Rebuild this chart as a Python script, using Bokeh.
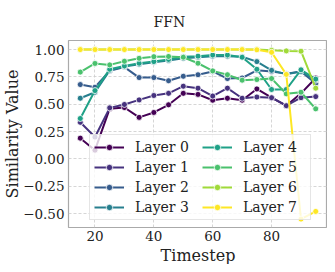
from bokeh.plotting import figure
from bokeh.models import Legend, LegendItem, FixedTicker, Title
from bokeh.embed import file_html
from bokeh.resources import INLINE

timesteps = [15, 20, 25, 30, 35, 40, 45, 50, 55, 60, 65, 70, 75, 80, 85, 90, 95]

layer0 = [0.19, 0.08, 0.46, 0.47, 0.38, 0.425, 0.495, 0.60, 0.59, 0.537, 0.555, 0.537, 0.64, 0.56, 0.487, 0.60, 0.74]
layer1 = [0.335, 0.20, 0.467, 0.498, 0.54, 0.58, 0.60, 0.665, 0.647, 0.575, 0.647, 0.555, 0.566, 0.56, 0.487, 0.56, 0.57]
layer2 = [0.68, 0.656, 0.805, 0.84, 0.744, 0.744, 0.715, 0.756, 0.77, 0.80, 0.735, 0.74, 0.81, 0.80, 0.78, 0.80, 0.69]
layer3 = [0.555, 0.61, 0.81, 0.845, 0.865, 0.885, 0.90, 0.92, 0.93, 0.94, 0.94, 0.935, 0.89, 0.81, 0.775, 0.80, 0.72]
layer4 = [0.37, 0.625, 0.82, 0.85, 0.875, 0.89, 0.91, 0.935, 0.94, 0.95, 0.95, 0.93, 0.82, 0.635, 0.635, 0.815, 0.73]
layer5 = [0.794, 0.873, 0.86, 0.893, 0.92, 0.935, 0.937, 0.93, 0.875, 0.805, 0.77, 0.72, 0.726, 0.735, 0.595, 0.61, 0.458]
layer6 = [1.0, 1.0, 1.0, 1.0, 1.0, 1.0, 1.0, 1.0, 1.0, 1.0, 1.0, 1.0, 1.0, 0.993, 0.988, 0.985, 0.647]
layer7 = [1.0, 1.0, 1.0, 1.0, 1.0, 1.0, 1.0, 1.0, 1.0, 1.0, 1.0, 1.0, 0.998, 0.975, 0.773, -0.55, -0.48]

series = [layer0, layer1, layer2, layer3, layer4, layer5, layer6, layer7]
labels = ["Layer 0", "Layer 1", "Layer 2", "Layer 3", "Layer 4", "Layer 5", "Layer 6", "Layer 7"]
colors = ["#440154", "#46327e", "#365c8d", "#277f8e", "#1fa187", "#4ac16d", "#a0da39", "#fde725"]

x_ticks = [20, 40, 60, 80]
y_ticks = [-0.5, -0.25, 0.0, 0.25, 0.5, 0.75, 1.0]
y_tick_labels = ["\u22120.50", "\u22120.25", "0.00", "0.25", "0.50", "0.75", "1.00"]

FONT = "DejaVu Serif"

p = figure(width=327, height=264, x_range=(11, 99), y_range=(-0.627, 1.083),
           output_backend="svg", toolbar_location=None,
           min_border_left=10, min_border_right=0, min_border_top=8, min_border_bottom=0)

p.add_layout(Title(text="FFN", text_font=FONT, text_font_size="14px", text_font_style="normal",
                   align="left", offset=85, standoff=22, text_color="#222222"), "above")

p.background_fill_color = "white"
p.outline_line_color = "#aaaaaa"
p.outline_line_width = 1.2

p.xgrid.grid_line_color = "#cccccc"
p.ygrid.grid_line_color = "#cccccc"
p.xgrid.grid_line_dash = "3 2"
p.ygrid.grid_line_dash = "3 2"
p.xgrid.grid_line_alpha = 0.8
p.ygrid.grid_line_alpha = 0.8

p.xaxis.ticker = FixedTicker(ticks=x_ticks)
p.yaxis.ticker = FixedTicker(ticks=y_ticks)
p.yaxis.major_label_overrides = {t: l for t, l in zip(y_ticks, y_tick_labels)}

for ax in (p.xaxis[0], p.yaxis[0]):
    ax.axis_line_color = None
    ax.major_tick_line_color = None
    ax.minor_tick_line_color = None
    ax.major_tick_out = 0
    ax.major_tick_in = 0
    ax.minor_tick_out = 0
    ax.minor_tick_in = 0
    ax.major_label_text_font = FONT
    ax.major_label_text_font_size = "13.5px"
    ax.major_label_text_color = "#222222"
    ax.axis_label_text_font = FONT
    ax.axis_label_text_font_size = "16px"
    ax.axis_label_text_font_style = "normal"
    ax.axis_label_text_color = "#222222"

p.xaxis.major_label_standoff = 3
p.yaxis.major_label_standoff = 4
p.yaxis.axis_label_standoff = -2
p.yaxis.axis_label = "Similarity Value"

# x-axis title as a panel below the axis
p.add_layout(Title(text="Timestep", text_font=FONT, text_font_size="16px", text_font_style="normal",
                   align="center", standoff=0, text_color="#222222"), "below")

items = []
for vals, lab, col in zip(series, labels, colors):
    r1 = p.line(timesteps, vals, line_color=col, line_width=2)
    r2 = p.scatter(timesteps, vals, size=6, fill_color=col, line_color="white", line_width=0.8)
    items.append(LegendItem(label=lab, renderers=[r1, r2]))

legend = Legend(items=items, ncols=2, location=(21, 7),
                label_text_font=FONT, label_text_font_size="14px", label_text_color="#222222",
                glyph_width=30, glyph_height=16, label_standoff=11, label_width=63, label_height=16,
                spacing=4, padding=4, margin=0,
                border_line_color="#cccccc", border_line_width=1,
                background_fill_color="white", background_fill_alpha=0.8)
p.add_layout(legend)

open("out.html", "w").write(file_html(p, INLINE))
